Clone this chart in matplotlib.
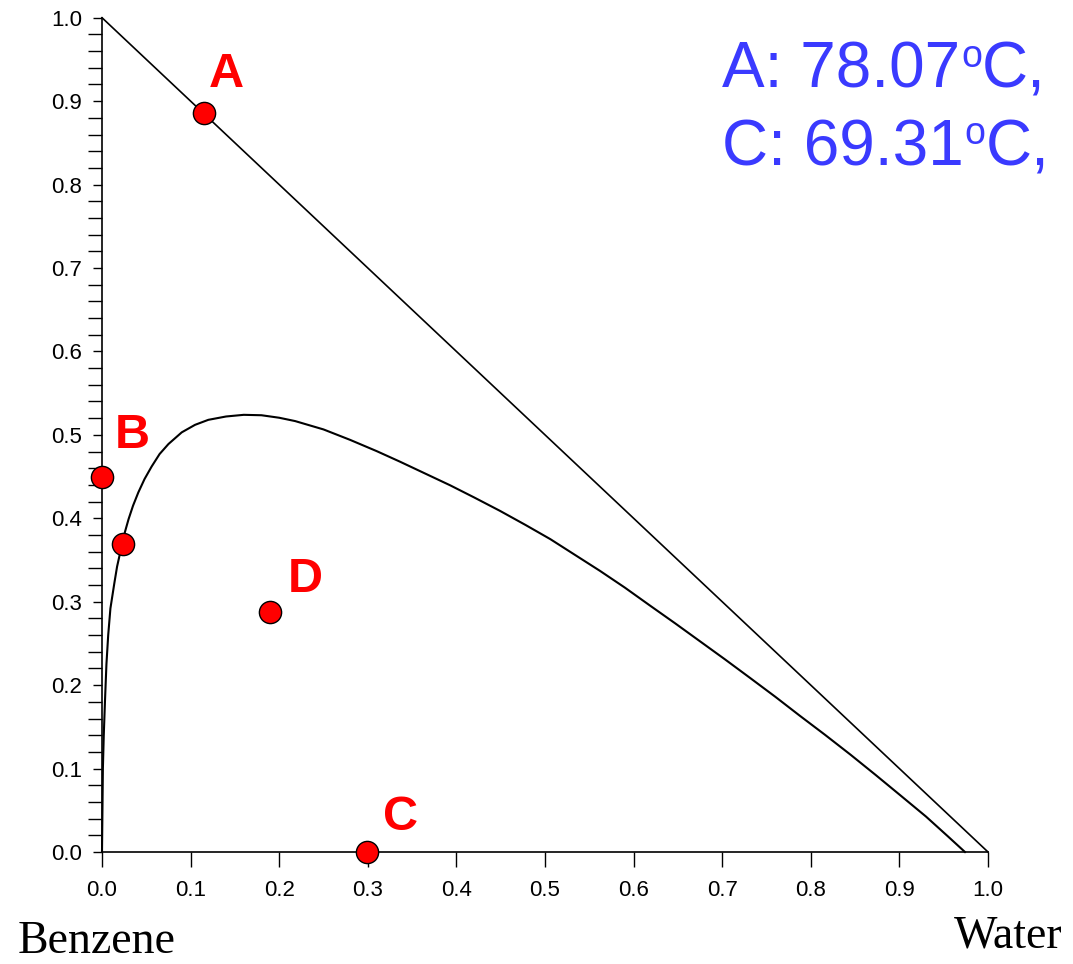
import numpy as np
import matplotlib
matplotlib.use("Agg")
import matplotlib.pyplot as plt
from matplotlib.ticker import MultipleLocator, FormatStrFormatter

plt.rcParams['font.family'] = ['Liberation Sans', 'DejaVu Sans']

# binodal curve
curve_x = [0.0, 0.0005, 0.001, 0.002, 0.0034, 0.005, 0.007, 0.0095, 0.0139, 0.017,
           0.022, 0.026, 0.030, 0.035, 0.041, 0.048, 0.056, 0.065, 0.075, 0.090,
           0.105, 0.120, 0.140, 0.160, 0.180, 0.200, 0.218, 0.250, 0.280, 0.310,
           0.336, 0.365, 0.393, 0.420, 0.449, 0.478, 0.506, 0.534, 0.562, 0.590,
           0.619, 0.647, 0.675, 0.703, 0.731, 0.760, 0.788, 0.816, 0.845, 0.873,
           0.901, 0.930, 0.955, 0.974]
curve_y = [0.0, 0.050, 0.100, 0.140, 0.182, 0.225, 0.260, 0.292, 0.322, 0.342,
           0.366, 0.384, 0.399, 0.415, 0.431, 0.447, 0.462, 0.477, 0.489, 0.503,
           0.512, 0.518, 0.522, 0.524, 0.5235, 0.5205, 0.5165, 0.5065, 0.494, 0.4805,
           0.468, 0.4535, 0.4395, 0.425, 0.409, 0.392, 0.375, 0.356, 0.337, 0.317,
           0.295, 0.274, 0.2525, 0.231, 0.209, 0.186, 0.163, 0.1405, 0.1165, 0.0925,
           0.068, 0.0425, 0.0185, 0.0]

# edge of the triangle
edge_x = [0.0, 1.0]
edge_y = [1.0, 0.0]

# labelled points
pt_names = ["A", "B", "", "D", "C"]
pt_x = [0.115, 0.0, 0.024, 0.190, 0.299]
pt_y = [0.886, 0.450, 0.369, 0.288, 0.0]
# label offsets in points
lbl_off = [(16.5, 27.5), (21.5, 29.5), (0, 0), (25, 23), (24, 25)]

temp_pts = ["A", "C"]
temp_vals = ["78.07", "69.31"]

fig = plt.figure(figsize=(10.73, 9.64), dpi=100)
ax = fig.add_axes([102 / 1073, 112 / 964, 886 / 1073, 834.3 / 964])

ax.plot(edge_x, edge_y, color='black', lw=1.2, clip_on=False)
ax.plot(curve_x, curve_y, color='black', lw=1.5, clip_on=False,
        solid_joinstyle='round')

ax.plot(pt_x, pt_y, 'o', ms=16, mfc='red', mec='black', mew=1.0,
        clip_on=False, zorder=5, linestyle='none')

for name, x, y, off in zip(pt_names, pt_x, pt_y, lbl_off):
    if name == "":
        continue
    ax.annotate(name, (x, y), xytext=off, textcoords='offset points',
                ha='center', va='center', color='red', fontsize=35,
                fontweight='bold')

ax.set_xlim(0, 1)
ax.set_ylim(0, 1)
ax.spines['top'].set_visible(False)
ax.spines['right'].set_visible(False)
for s in ['left', 'bottom']:
    ax.spines[s].set_linewidth(1.2)

ax.xaxis.set_major_locator(MultipleLocator(0.1))
ax.yaxis.set_major_locator(MultipleLocator(0.1))
ax.yaxis.set_minor_locator(MultipleLocator(0.02))
ax.xaxis.set_major_formatter(FormatStrFormatter('%.1f'))
ax.yaxis.set_major_formatter(FormatStrFormatter('%.1f'))
ax.tick_params(axis='x', which='major', direction='out', length=11, width=1.0,
               pad=9, labelsize=16)
ax.tick_params(axis='y', which='major', direction='out', length=6.5, width=1.0,
               pad=8, labelsize=16)
ax.tick_params(axis='y', which='minor', direction='out', length=10, width=1.0)

fig.text(18 / 1073, 1 - 953 / 964, "Benzene", family='Liberation Serif',
         fontsize=33, ha='left', va='baseline')
fig.text(1063 / 1073, 1 - 948 / 964, "Water", family='Liberation Serif',
         fontsize=33, ha='right', va='baseline')

# temperature notes, built piece by piece so the small "o" sits right
blue = '#3a3aff'
renderer = fig.canvas.get_renderer()
W, H = fig.bbox.width, fig.bbox.height
for i, (p, v) in enumerate(zip(temp_pts, temp_vals)):
    base = 88 + 77 * i
    x0 = 722
    t1 = fig.text(x0 / W, 1 - base / H, p + ": " + v, color=blue, fontsize=46,
                  ha='left', va='baseline')
    x1 = t1.get_window_extent(renderer).x1 + 1
    t2 = fig.text(x1 / W, 1 - (base - 21) / H, "o", color=blue, fontsize=27,
                  ha='left', va='baseline')
    x2 = t2.get_window_extent(renderer).x1
    fig.text(x2 / W, 1 - base / H, "C,", color=blue, fontsize=46,
             ha='left', va='baseline')

fig.savefig("out.png", dpi=100)
